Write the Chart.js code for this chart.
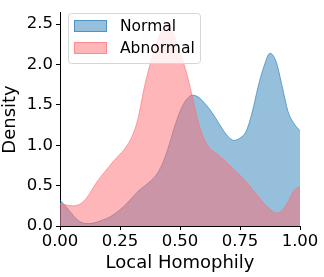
<!DOCTYPE html>
<html>
<head>
<meta charset="utf-8">
<script src="https://cdn.jsdelivr.net/npm/chart.js@4/dist/chart.umd.min.js"></script>
<style>
  html,body{margin:0;padding:0;background:#fff;}
  #wrap{width:324px;height:277px;}
</style>
</head>
<body>
<div id="wrap"><canvas id="chart" width="324" height="277"></canvas></div>
<script>
// x grid of the density curves (local homophily)
const xs = [0,0.025,0.05,0.075,0.1,0.125,0.15,0.175,0.2,0.225,0.25,0.275,0.3,0.325,0.35,0.375,0.4,0.425,0.45,0.475,0.5,
  0.525,0.55,0.575,0.6,0.625,0.65,0.675,0.7,0.725,0.75,0.775,0.8,0.825,0.85,0.875,0.9,0.925,0.95,0.975,1.0];
// densities
const normal = [0.32,0.24,0.15,0.07,0.035,0.03,0.045,0.07,0.1,0.145,0.2,0.27,0.35,0.43,0.49,0.55,0.63,0.76,0.96,1.21,1.42,
  1.56,1.62,1.6,1.53,1.44,1.33,1.21,1.11,1.06,1.09,1.17,1.4,1.72,1.98,2.14,2.04,1.74,1.42,1.27,1.18];
const abnormal = [0.28,0.26,0.25,0.26,0.31,0.41,0.53,0.63,0.72,0.81,0.89,0.98,1.11,1.33,1.7,2.0,2.25,2.43,2.51,2.36,2.15,
  1.92,1.62,1.3,1.08,0.96,0.9,0.84,0.77,0.7,0.63,0.55,0.46,0.37,0.28,0.21,0.16,0.19,0.3,0.44,0.49];
const labels = ['Normal','Abnormal'];
const xTicks = [0,0.25,0.5,0.75,1.0];
const yTicks = [0,0.5,1.0,1.5,2.0,2.5];

const FONT = "'DejaVu Sans', sans-serif";
const blueFill = 'rgba(31,119,180,0.47)';
const blueLine = 'rgba(31,119,180,0.6)';
const pinkFill = 'rgba(255,109,115,0.5)';
const pinkLine = 'rgba(255,109,115,0.6)';

const pts = arr => arr.map((v,i)=>({x:xs[i], y:v}));

// legend drawn in a framed box inside the plot like matplotlib
const legendBox = {
  id:'legendBox',
  afterDatasetsDraw(chart){
    const ctx = chart.ctx;
    const x0 = 68, y0 = 13, w = 132, h = 50;
    ctx.save();
    ctx.beginPath();
    ctx.roundRect(x0+0.5, y0+0.5, w, h, 3);
    ctx.fillStyle = 'rgba(255,255,255,0.8)';
    ctx.fill();
    ctx.strokeStyle = '#d6d6d6';
    ctx.lineWidth = 1;
    ctx.stroke();
    chart.data.datasets.forEach((ds,i)=>{
      const ry = 20 + i*22;
      ctx.fillStyle = ds.backgroundColor;
      ctx.fillRect(74, ry, 33, 12);
      ctx.strokeStyle = ds.borderColor;
      ctx.strokeRect(74.5, ry+0.5, 32, 11);
      ctx.fillStyle = '#000';
      ctx.font = '15.5px ' + FONT;
      ctx.textBaseline = 'middle';
      ctx.fillText(ds.label, 120, ry+6.5);
    });
    ctx.restore();
  }
};

new Chart(document.getElementById('chart').getContext('2d'), {
  type:'line',
  data:{
    datasets:[
      {label:labels[0], data:pts(normal), backgroundColor:blueFill, borderColor:blueLine, borderWidth:1,
       fill:'origin', pointRadius:0, cubicInterpolationMode:'monotone', order:1},
      {label:labels[1], data:pts(abnormal), backgroundColor:pinkFill, borderColor:pinkLine, borderWidth:1,
       fill:'origin', pointRadius:0, cubicInterpolationMode:'monotone', order:0}
    ]
  },
  options:{
    responsive:false,
    animation:false,
    layout:{padding:{top:4, right:24, left:0, bottom:0}},
    plugins:{legend:{display:false}, tooltip:{enabled:false}},
    scales:{
      x:{
        type:'linear', min:0, max:1,
        afterBuildTicks: s => { s.ticks = xTicks.map(v=>({value:v})); },
        afterFit: s => { s.height = 51; },
        ticks:{font:{family:FONT,size:16.5}, color:'#000', padding:2, maxRotation:0,
               callback:v=>Number(v).toFixed(2)},
        grid:{drawOnChartArea:false, drawTicks:true, tickLength:4, color:'#000'},
        border:{color:'#000', width:1},
        title:{display:true, text:'Local Homophily', font:{family:FONT,size:18}, color:'#000', padding:{top:0,bottom:3}}
      },
      y:{
        min:0, max:2.64,
        afterBuildTicks: s => { s.ticks = yTicks.map(v=>({value:v})); },
        afterFit: s => { s.width = 60; },
        ticks:{font:{family:FONT,size:16.5}, color:'#000', padding:3,
               callback:v=>Number(v).toFixed(1)},
        grid:{drawOnChartArea:false, drawTicks:true, tickLength:4, color:'#000'},
        border:{color:'#000', width:1},
        title:{display:true, text:'Density', font:{family:FONT,size:18}, color:'#000', padding:{top:0,bottom:1}}
      }
    }
  },
  plugins:[legendBox]
});
</script>
</body>
</html>
